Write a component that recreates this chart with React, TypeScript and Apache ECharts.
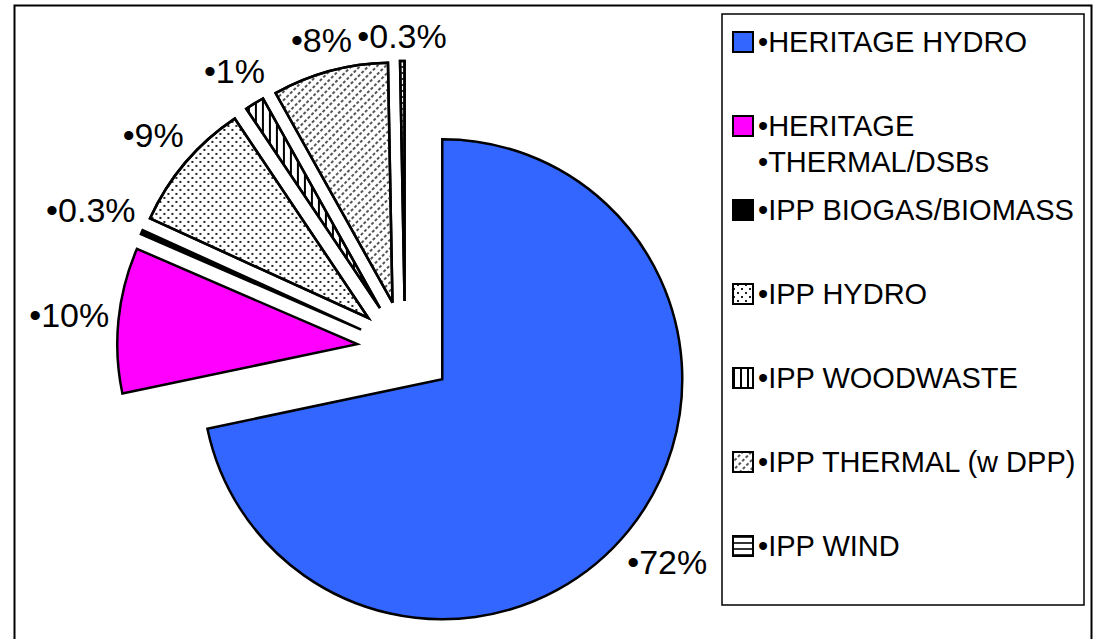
import React, { useEffect, useRef } from 'react';
import * as echarts from 'echarts';

// ---- data ----
const categories = [
  'HERITAGE HYDRO',
  'HERITAGE THERMAL/DSBs',
  'IPP BIOGAS/BIOMASS',
  'IPP HYDRO',
  'IPP WOODWASTE',
  'IPP THERMAL (w DPP)',
  'IPP WIND',
];
const shares = [71.7, 9.8, 0.3, 8.8, 1.3, 7.8, 0.3];

// ---- styles ----
const FONT = 'Arial, "Liberation Sans", sans-serif';
const CX = 405;
const CY = 349;
const R = 240;
const OFFSET = 48;
const GAP = 8;

const fills: any[] = [
  { color: '#3366FF' },
  { color: '#FF00FF' },
  { color: '#000000' },
  {
    color: '#ffffff',
    decal: {
      symbol: 'rect', symbolSize: 1, color: '#222', backgroundColor: '#fff',
      dashArrayX: [[1.5, 5.5], [0, 3.5, 1.5, 2]], dashArrayY: [1.5, 2],
    },
  },
  {
    color: '#ffffff',
    decal: {
      symbol: 'rect', symbolSize: 1, color: '#000', backgroundColor: '#fff',
      dashArrayX: [2, 5], dashArrayY: [1, 0],
    },
  },
  {
    color: '#ffffff',
    decal: {
      symbol: 'rect', symbolSize: 1, color: '#555', backgroundColor: '#fff',
      dashArrayX: [3, 2], dashArrayY: [1.2, 4], rotation: -Math.PI / 4,
    },
  },
  {
    color: '#ffffff',
    decal: {
      symbol: 'rect', symbolSize: 1, color: '#333', backgroundColor: '#fff',
      dashArrayX: [1, 0], dashArrayY: [1.2, 4],
    },
  },
];

function fmtPct(v: number) {
  return '•' + (v >= 1 ? Math.round(v) : v) + '%';
}

export default function App() {
  const ref = useRef<HTMLDivElement>(null);
  useEffect(() => {
    if (!ref.current) return;
    const chart = echarts.init(ref.current, undefined, { renderer: 'svg' });

    const total = shares.reduce((a, b) => a + b, 0);
    let acc = 0;
    const mids = shares.map((v) => {
      const a0 = acc;
      acc += v;
      return ((a0 + v / 2) / total) * Math.PI * 2;
    });

    const legends = categories.map((name, i) => ({
      orient: 'vertical',
      left: 732,
      top: i === 1 ? 126 - 54 : 42 + i * 84 - 18,
      padding: 0,
      itemWidth: 20,
      itemHeight: 20,
      itemGap: 0,
      selectedMode: false,
      icon: 'rect',
      data: [name],
      formatter: (n: string) =>
        n === 'HERITAGE THERMAL/DSBs' ? ' \n•HERITAGE\n•THERMAL/DSBs' : '•' + n,
      textStyle: {
        fontFamily: FONT,
        fontSize: 29,
        lineHeight: 36,
        color: '#000',
      },
    }));

    chart.setOption({
      animation: false,
      backgroundColor: '#fff',
      legend: legends,
      graphic: [
        {
          type: 'rect',
          shape: { x: 14.5, y: 5.5, width: 1077, height: 700 },
          style: { fill: 'none', stroke: '#000', lineWidth: 2 },
          silent: true,
        },
        {
          type: 'rect',
          shape: { x: 722, y: 14, width: 362, height: 591 },
          style: { fill: 'none', stroke: '#000', lineWidth: 1.5 },
          silent: true,
        },
      ],
      series: [
        {
          type: 'pie',
          center: [CX, CY],
          radius: R,
          startAngle: 90,
          clockwise: true,
          selectedMode: 'multiple',
          selectedOffset: OFFSET,
          avoidLabelOverlap: false,
          emphasis: { disabled: true },
          itemStyle: { borderColor: '#000', borderWidth: 2.5, borderJoin: 'miter' },
          label: { show: false },
          labelLine: { show: false },
          data: categories.map((name, i) => ({
            name,
            value: shares[i],
            selected: true,
            itemStyle: fills[i],
          })),
        },
        {
          // label carrier: same slices, invisible, not exploded
          type: 'pie',
          z: 1,
          silent: true,
          legendHoverLink: false,
          center: [CX, CY],
          radius: R,
          startAngle: 90,
          clockwise: true,
          selectedMode: false,
          avoidLabelOverlap: false,
          emphasis: { disabled: true },
          itemStyle: { color: 'rgba(0,0,0,0)', borderWidth: 0 },
          label: {
            show: true,
            position: 'outside',
            fontFamily: FONT,
            fontSize: 34,
            color: '#000',
            formatter: (p: any) => fmtPct(p.value),
          },
          labelLine: { show: false },
          labelLayout: (params: any) => {
            const i = params.dataIndex;
            const dx = Math.sin(mids[i]);
            const dy = -Math.cos(mids[i]);
            const w = params.labelRect.width;
            const h = params.labelRect.height;
            const d = OFFSET + R + GAP + Math.abs(dx) * w / 2 + Math.abs(dy) * h / 2;
            return {
              x: CX + dx * d,
              y: CY + dy * d,
              align: 'center',
              verticalAlign: 'middle',
            };
          },
          data: categories.map((name, i) => ({ name, value: shares[i] })),
        },
      ],
    });
    return () => chart.dispose();
  }, []);
  return (
    <div
      ref={ref}
      style={{ position: 'absolute', left: 0, top: 0, width: 1094, height: 639 }}
    />
  );
}
